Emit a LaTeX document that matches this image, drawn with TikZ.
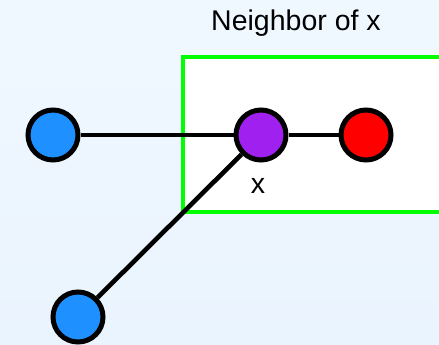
\documentclass[tikz,border=0pt]{standalone}
\usepackage{fontspec}
\setmainfont{Liberation Sans}
\pgfdeclarelayer{edges}
\pgfdeclarelayer{bg}
\pgfsetlayers{bg,edges,main}
\begin{document}
\begin{tikzpicture}[x=1pt,y=-1pt,
  vtx/.style={circle,draw=black,line width=5pt,minimum size=50pt,inner sep=0pt},
  edge/.style={draw=black,line width=4.6pt},
  lbl/.style={font=\fontsize{28.5}{32}\selectfont,inner sep=0pt}]
\useasboundingbox (0,0) rectangle (439,345);
\clip (0,0) rectangle (439,345);
\begin{pgfonlayer}{bg}
\shade[top color={rgb,255:red,240;green,248;blue,255},bottom color={rgb,255:red,234;green,244;blue,254}] (0,0) rectangle (439,345);
\draw[draw={rgb,255:red,0;green,255;blue,0},fill=white,line width=4pt] (183,57) rectangle (450,212);
\end{pgfonlayer}
\node[lbl] (title) at (296,23) {Neighbor of x};
\node[vtx,fill={rgb,255:red,30;green,144;blue,255}] (b1) at (53,135) {};
\node[vtx,fill={rgb,255:red,160;green,32;blue,240}] (x) at (261,135) {};
\node[vtx,fill={rgb,255:red,255;green,0;blue,0}] (r) at (366,135) {};
\node[vtx,fill={rgb,255:red,30;green,144;blue,255}] (b2) at (78,317) {};
\node[lbl] (xl) at (258,186) {x};
\begin{pgfonlayer}{edges}
\path[edge] (b1) -- (x);
\path[edge] (x) -- (r);
\path[edge] (x) -- (b2);
\end{pgfonlayer}
\end{tikzpicture}
\end{document}
